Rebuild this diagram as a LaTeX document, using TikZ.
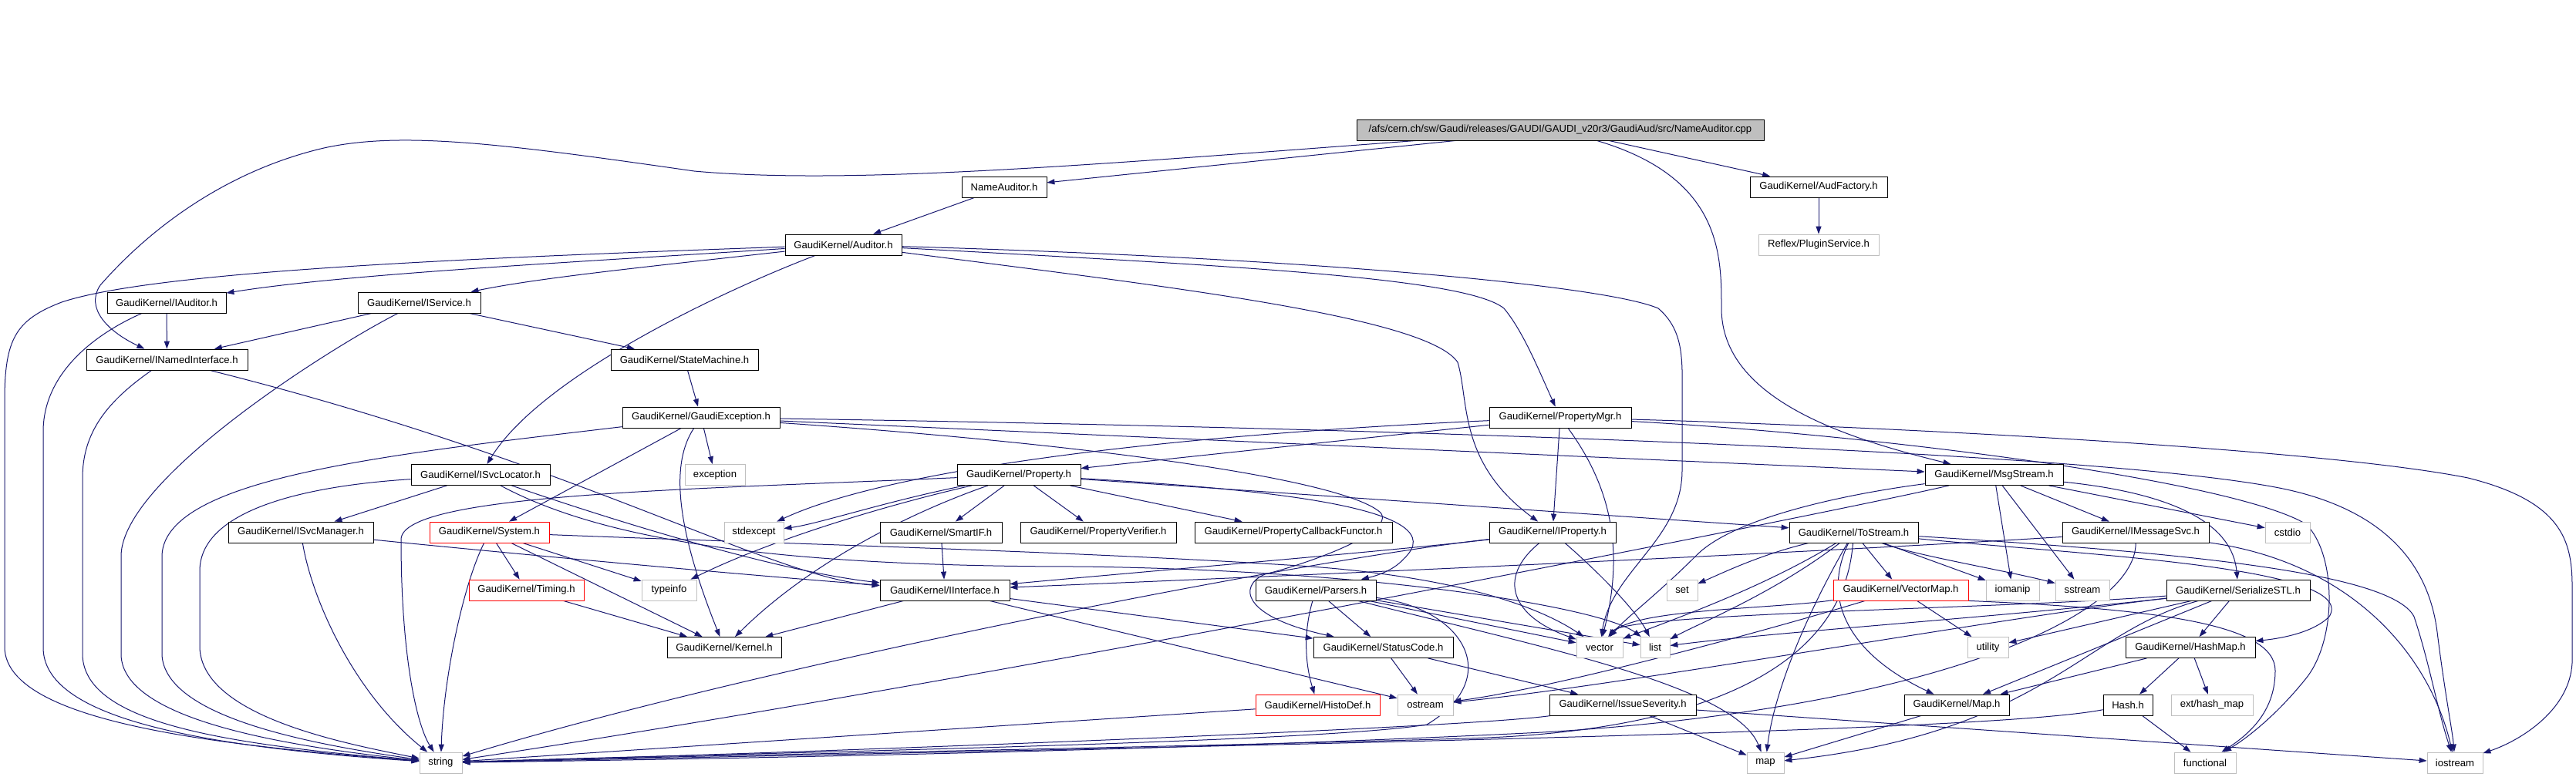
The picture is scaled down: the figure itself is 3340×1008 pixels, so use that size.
\documentclass[tikz,border=0pt]{standalone}
\usepackage{fontspec}
\setmainfont{Liberation Sans}
\usetikzlibrary{arrows.meta}
\pgfdeclarelayer{bg}
\pgfsetlayers{bg,main}
\definecolor{edgeblue}{RGB}{25,25,112}
\definecolor{nodegray}{RGB}{191,191,191}
\begin{document}
\begin{tikzpicture}[x=1pt,y=-1pt,
  box/.style={draw=black, line width=0.8pt, fill=white, minimum height=27pt,
    inner xsep=2pt, inner ysep=0pt, font=\fontsize{13.1}{15}\selectfont},
  gbox/.style={box, draw=nodegray},
  rbox/.style={box, draw=red},
  e/.style={draw=edgeblue, line width=1pt, -{Triangle[length=10pt,width=7pt]}}]
\useasboundingbox (0,0) rectangle (3340,1008);
% nodes
\node[box, fill=nodegray, minimum width=528pt] (root) at (2023,168.5) {/afs/cern.ch/sw/Gaudi/releases/GAUDI/GAUDI\_v20r3/GaudiAud/src/NameAuditor.cpp};
\node[box, minimum width=110pt] (nameaud) at (1302,242.5) {NameAuditor.h};
\node[box, minimum width=178pt] (audfac) at (2358,242.5) {GaudiKernel/AudFactory.h};
\node[gbox, minimum width=156pt] (plugin) at (2358,317.5) {Reflex/PluginService.h};
\node[box, minimum width=151pt] (auditor) at (1093.5,317.5) {GaudiKernel/Auditor.h};
\node[box, minimum width=154pt] (iauditor) at (216,392.5) {GaudiKernel/IAuditor.h};
\node[box, minimum width=159pt] (iservice) at (543.5,392.5) {GaudiKernel/IService.h};
\node[box, minimum width=209pt] (inamed) at (216.5,466.5) {GaudiKernel/INamedInterface.h};
\node[box, minimum width=191pt] (statem) at (887.5,466.5) {GaudiKernel/StateMachine.h};
\node[box, minimum width=204pt] (gexc) at (909,541.5) {GaudiKernel/GaudiException.h};
\node[box, minimum width=184pt] (propmgr) at (2023,541.5) {GaudiKernel/PropertyMgr.h};
\node[gbox, minimum width=78pt] (exception) at (927,616) {exception};
\node[box, minimum width=180pt] (isvcloc) at (623,616) {GaudiKernel/ISvcLocator.h};
\node[box, minimum width=160pt] (property) at (1321,616) {GaudiKernel/Property.h};
\node[box, minimum width=179pt] (msgstream) at (2585.5,616) {GaudiKernel/MsgStream.h};
\node[box, minimum width=188pt] (isvcman) at (390,690.5) {GaudiKernel/ISvcManager.h};
\node[rbox, minimum width=155pt] (system) at (634.5,690.5) {GaudiKernel/System.h};
\node[gbox, minimum width=77pt] (stdexcept) at (977.5,690.5) {stdexcept};
\node[box, minimum width=158pt] (smartif) at (1220,690.5) {GaudiKernel/SmartIF.h};
\node[box, minimum width=202pt] (propver) at (1424,690.5) {GaudiKernel/PropertyVerifier.h};
\node[box, minimum width=256pt] (propcb) at (1677,690.5) {GaudiKernel/PropertyCallbackFunctor.h};
\node[box, minimum width=164pt] (iproperty) at (2013,690.5) {GaudiKernel/IProperty.h};
\node[box, minimum width=167pt] (tostream) at (2403.5,690.5) {GaudiKernel/ToStream.h};
\node[box, minimum width=190pt] (imsgsvc) at (2769,690.5) {GaudiKernel/IMessageSvc.h};
\node[gbox, minimum width=58pt] (cstdio) at (2966,690.5) {cstdio};
\node[rbox, minimum width=149pt] (timing) at (682.5,765.5) {GaudiKernel/Timing.h};
\node[gbox, minimum width=71pt] (typeinfo) at (867.5,765.5) {typeinfo};
\node[box, minimum width=168pt] (iinterface) at (1225,765.5) {GaudiKernel/IInterface.h};
\node[box, minimum width=156pt] (parsers) at (1706,765.5) {GaudiKernel/Parsers.h};
\node[gbox, minimum width=40pt] (set) at (2181,765.5) {set};
\node[rbox, minimum width=175pt] (vectormap) at (2464.5,765.5) {GaudiKernel/VectorMap.h};
\node[gbox, minimum width=69pt] (iomanip) at (2609.5,765.5) {iomanip};
\node[gbox, minimum width=70pt] (sstream) at (2700,765.5) {sstream};
\node[box, minimum width=186pt] (serialize) at (2902,765.5) {GaudiKernel/SerializeSTL.h};
\node[box, minimum width=148pt] (kernel) at (939,840) {GaudiKernel/Kernel.h};
\node[box, minimum width=181pt] (statuscode) at (1793.5,840) {GaudiKernel/StatusCode.h};
\node[gbox, minimum width=60pt] (vector) at (2074,840) {vector};
\node[gbox, minimum width=38pt] (list) at (2146,840) {list};
\node[gbox, minimum width=53pt] (utility) at (2577.5,840) {utility};
\node[box, minimum width=168pt] (hashmap) at (2840,840) {GaudiKernel/HashMap.h};
\node[rbox, minimum width=161pt] (histodef) at (1708.5,914.5) {GaudiKernel/HistoDef.h};
\node[gbox, minimum width=72pt] (ostream) at (1848,914.5) {ostream};
\node[box, minimum width=190pt] (issue) at (2104,914.5) {GaudiKernel/IssueSeverity.h};
\node[box, minimum width=136pt] (mapH) at (2537,914.5) {GaudiKernel/Map.h};
\node[box, minimum width=64pt] (hash) at (2759,914.5) {Hash.h};
\node[gbox, minimum width=106pt] (exthash) at (2868,914.5) {ext/hash\_map};
\node[gbox, minimum width=55pt] (string) at (571.5,989.5) {string};
\node[gbox, minimum width=48pt] (mapstd) at (2289,989.5) {map};
\node[gbox, minimum width=80pt] (functional) at (2859,989.5) {functional};
\node[gbox, minimum width=72pt] (iostream) at (3183,989.5) {iostream};
% edges
\begin{pgfonlayer}{bg}
\fill[white] (0,0) rectangle (3340,1008);
\draw[e] (root) -- (nameaud);
\draw[e] (root) -- (audfac);
\draw[e] (root) .. controls (2232,230) and (2232,330) .. (2232,400) .. controls (2232,520) and (2400,570) .. (msgstream);
\draw[e] (root) .. controls (1400,215) and (1100,240) .. (900,222) .. controls (650,186) and (520,170) .. (420,192) .. controls (300,220) and (200,290) .. (130,370) .. controls (110,400) and (140,430) .. (inamed);
\draw[e] (nameaud) -- (auditor);
\draw[e] (audfac) -- (plugin);
\draw[e] (auditor) .. controls (750,340) and (450,355) .. (iauditor);
\draw[e] (auditor) .. controls (850,345) and (700,360) .. (iservice);
\draw[e] (auditor) .. controls (600,335) and (200,352) .. (80,392) .. controls (20,415) and (6,440) .. (6,520) -- (6,840) .. controls (8,940) and (300,968) .. (string);
\draw[e] (auditor) .. controls (930,380) and (700,490) .. (isvcloc);
\draw[e] (auditor) .. controls (1500,370) and (1850,410) .. (1890,470) .. controls (1905,520) and (1890,600) .. (iproperty);
\draw[e] (auditor) .. controls (1600,345) and (1900,360) .. (1950,400) .. controls (1975,430) and (1995,480) .. (propmgr);
\draw[e] (auditor) .. controls (1700,335) and (2080,370) .. (2150,400) .. controls (2185,430) and (2181,470) .. (2181,520) -- (2181,610) .. controls (2181,700) and (2090,740) .. (vector);
\draw[e] (iauditor) -- (inamed);
\draw[e] (iauditor) .. controls (130,430) and (56,480) .. (56,560) -- (56,840) .. controls (56,930) and (250,968) .. (string);
\draw[e] (iservice) -- (inamed);
\draw[e] (iservice) .. controls (430,450) and (160,620) .. (157,720) -- (157,850) .. controls (160,930) and (350,966) .. (string);
\draw[e] (iservice) -- (statem);
\draw[e] (inamed) .. controls (750,600) and (1000,750) .. (iinterface);
\draw[e] (inamed) .. controls (140,520) and (107,560) .. (107,620) -- (107,850) .. controls (110,940) and (300,966) .. (string);
\draw[e] (statem) -- (gexc);
\draw[e] (gexc) .. controls (500,590) and (215,620) .. (210,720) -- (210,850) .. controls (215,930) and (400,965) .. (string);
\draw[e] (gexc) -- (system);
\draw[e] (gexc) .. controls (870,600) and (875,680) .. (kernel);
\draw[e] (gexc) -- (exception);
\draw[e] (gexc) .. controls (1400,575) and (1740,620) .. (1790,665) .. controls (1810,690) and (1700,730) .. (1640,745) .. controls (1605,760) and (1610,800) .. (statuscode);
\draw[e] (gexc) -- (msgstream);
\draw[e] (gexc) .. controls (1800,555) and (2700,585) .. (2950,632) .. controls (3100,660) and (3150,740) .. (3160,820) .. controls (3170,900) and (3180,950) .. (iostream);
\draw[e] (isvcloc) -- (isvcman);
\draw[e] (isvcloc) .. controls (400,630) and (260,660) .. (259,740) -- (259,840) .. controls (262,930) and (450,965) .. (string);
\draw[e] (isvcloc) .. controls (780,670) and (1000,740) .. (iinterface);
\draw[e] (isvcloc) .. controls (780,700) and (1000,735) .. (1400,735) .. controls (1800,740) and (2080,790) .. (list);
\draw[e] (isvcman) .. controls (600,712) and (950,745) .. (iinterface);
\draw[e] (isvcman) .. controls (405,780) and (460,900) .. (string);
\draw[e] (system) -- (timing);
\draw[e] (system) -- (typeinfo);
\draw[e] (system) -- (kernel);
\draw[e] (system) .. controls (600,760) and (575,880) .. (string);
\draw[e] (system) .. controls (1000,705) and (1400,715) .. (1700,735) .. controls (1900,750) and (2000,790) .. (vector);
\draw[e] (timing) -- (kernel);
\draw[e] (propmgr) -- (property);
\draw[e] (propmgr) .. controls (1500,565) and (1150,610) .. (stdexcept);
\draw[e] (propmgr) -- (iproperty);
\draw[e] (propmgr) .. controls (2080,620) and (2110,700) .. (vector);
\draw[e] (propmgr) .. controls (2400,552) and (3000,580) .. (3200,620) .. controls (3320,650) and (3335,700) .. (3335,760) -- (3335,860) .. controls (3332,920) and (3270,960) .. (iostream);
\draw[e] (propmgr) .. controls (2450,565) and (2900,625) .. (2990,680) .. controls (3030,720) and (3030,830) .. (2990,880) .. controls (2950,930) and (2910,960) .. (functional);
\draw[e] (property) .. controls (900,635) and (520,640) .. (520,700) .. controls (520,850) and (540,940) .. (string);
\draw[e] (property) .. controls (1150,650) and (1060,680) .. (stdexcept);
\draw[e] (property) .. controls (1150,655) and (1000,700) .. (typeinfo);
\draw[e] (property) .. controls (1180,665) and (1050,730) .. (kernel);
\draw[e] (property) -- (smartif);
\draw[e] (property) -- (propver);
\draw[e] (property) -- (propcb);
\draw[e] (property) .. controls (1650,635) and (1890,660) .. (1820,725) .. controls (1805,742) and (1780,748) .. (parsers);
\draw[e] (property) -- (tostream);
\draw[e] (smartif) -- (iinterface);
\draw[e] (iproperty) .. controls (1800,715) and (1500,740) .. (iinterface);
\draw[e] (iproperty) .. controls (1700,725) and (1000,860) .. (string);
\draw[e] (iproperty) .. controls (1940,750) and (1960,800) .. (vector);
\draw[e] (iproperty) .. controls (2070,740) and (2120,790) .. (list);
\draw[e] (iinterface) -- (kernel);
\draw[e] (iinterface) -- (statuscode);
\draw[e] (iinterface) -- (ostream);
\draw[e] (parsers) .. controls (1690,820) and (1692,860) .. (histodef);
\draw[e] (parsers) -- (statuscode);
\draw[e] (parsers) -- (vector);
\draw[e] (parsers) -- (list);
\draw[e] (parsers) .. controls (2000,840) and (2250,890) .. (mapstd);
\draw[e] (parsers) .. controls (1900,790) and (1950,880) .. (1850,940) .. controls (1700,965) and (900,978) .. (string);
\draw[e] (histodef) -- (string);
\draw[e] (statuscode) -- (ostream);
\draw[e] (statuscode) -- (issue);
\draw[e] (issue) .. controls (1900,945) and (1000,978) .. (string);
\draw[e] (issue) -- (mapstd);
\draw[e] (issue) -- (iostream);
\draw[e] (msgstream) -- (imsgsvc);
\draw[e] (msgstream) -- (cstdio);
\draw[e] (msgstream) .. controls (2820,640) and (2895,680) .. (serialize);
\draw[e] (msgstream) -- (iomanip);
\draw[e] (msgstream) -- (sstream);
\draw[e] (msgstream) .. controls (2400,660) and (1300,880) .. (string);
\draw[e] (msgstream) .. controls (2400,640) and (2250,670) .. (2200,720) .. controls (2150,770) and (2110,800) .. (vector);
\draw[e] (imsgsvc) .. controls (2300,720) and (1600,750) .. (iinterface);
\draw[e] (imsgsvc) .. controls (3050,730) and (3150,850) .. (iostream);
\draw[e] (imsgsvc) .. controls (2770,800) and (2500,920) .. (2000,950) .. controls (1500,975) and (900,985) .. (string);
\draw[e] (tostream) .. controls (2280,720) and (2230,745) .. (set);
\draw[e] (tostream) .. controls (2300,770) and (2200,810) .. (list);
\draw[e] (tostream) .. controls (2290,760) and (2180,800) .. (vector);
\draw[e] (tostream) .. controls (2340,800) and (2300,900) .. (mapstd);
\draw[e] (tostream) .. controls (2360,780) and (2400,850) .. (mapH);
\draw[e] (tostream) -- (vectormap);
\draw[e] (tostream) -- (iomanip);
\draw[e] (tostream) .. controls (2480,720) and (2600,740) .. (sstream);
\draw[e] (tostream) .. controls (2800,715) and (3100,740) .. (3130,800) .. controls (3150,860) and (3160,920) .. (iostream);
\draw[e] (tostream) .. controls (2700,720) and (3060,735) .. (3020,800) .. controls (3000,820) and (2960,828) .. (hashmap);
\draw[e] (tostream) .. controls (2390,870) and (2200,950) .. (1900,958) .. controls (1500,970) and (900,980) .. (string);
\draw[e] (vectormap) -- (utility);
\draw[e] (vectormap.south east) .. controls (2800,790) and (2950,810) .. (2950,870) .. controls (2950,920) and (2920,950) .. (functional);
\draw[e] (vectormap) .. controls (2250,830) and (2000,895) .. (ostream);
\draw[e] (vectormap) .. controls (2300,790) and (2120,790) .. (vector);
\draw[e] (serialize) .. controls (2600,800) and (2100,890) .. (ostream);
\draw[e] (serialize) .. controls (2600,790) and (2110,795) .. (vector);
\draw[e] (serialize) .. controls (2600,800) and (2300,820) .. (list);
\draw[e] (serialize) -- (utility);
\draw[e] (serialize) -- (mapH);
\draw[e] (serialize) -- (hashmap);
\draw[e] (serialize) .. controls (2700,820) and (2650,950) .. (mapstd);
\draw[e] (hashmap) -- (mapH);
\draw[e] (hashmap) -- (hash);
\draw[e] (hashmap) -- (exthash);
\draw[e] (mapH) -- (mapstd);
\draw[e] (hash) -- (functional);
\draw[e] (hash) .. controls (2600,945) and (2000,960) .. (string);
\end{pgfonlayer}
\end{tikzpicture}
\end{document}
